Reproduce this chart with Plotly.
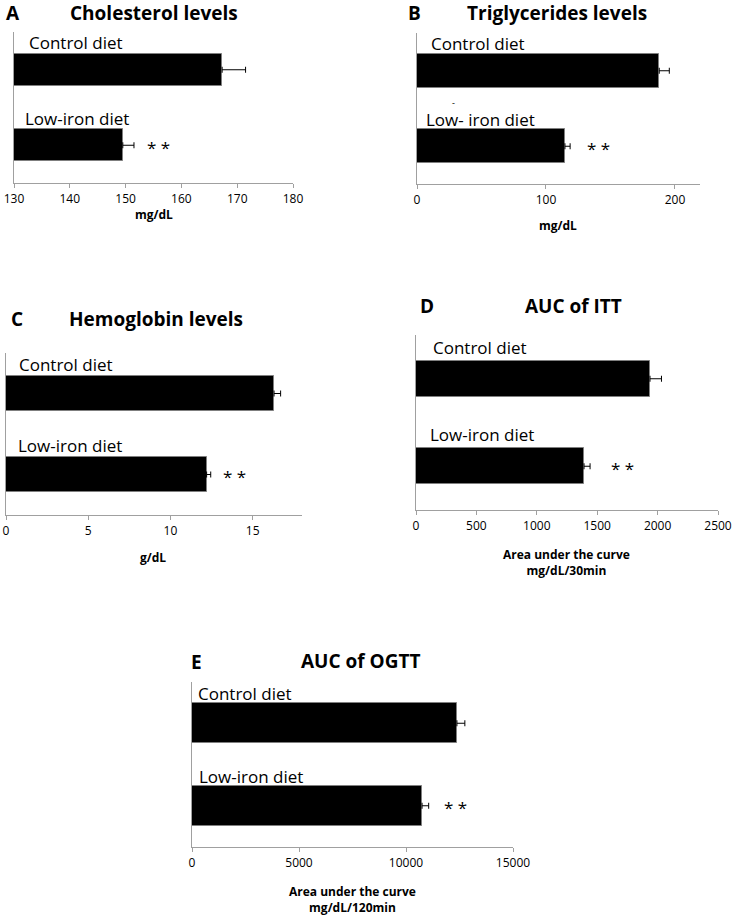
import plotly.graph_objects as go

# ---------------- data ----------------
groups = ["Low-iron diet", "Control diet"]   # y position 0, 1

chol_vals = [149.5, 167.3]
chol_err = [2.0, 4.2]
trig_vals = [114.7, 187.8]
trig_err = [4.0, 7.8]
hemo_vals = [12.2, 16.3]
hemo_err = [0.25, 0.4]
itt_vals = [1391, 1937]
itt_err = [50, 95]
ogtt_vals = [10750, 12380]
ogtt_err = [310, 370]

panel_letters = ["A", "B", "C", "D", "E"]
panel_titles = ["Cholesterol levels", "Triglycerides levels", "Hemoglobin levels",
                "AUC of ITT", "AUC of OGTT"]
axis_titles = ["mg/dL", "mg/dL", "g/dL",
               "Area under the curve<br>mg/dL/30min",
               "Area under the curve<br>mg/dL/120min"]
low_labels = ["Low-iron diet", "Low- iron diet", "Low-iron diet", "Low-iron diet", "Low-iron diet"]
x_ranges = [[130, 180], [0, 219.4], [0, 18], [0, 2500], [0, 15000]]
x_dticks = [10, 100, 5, 500, 5000]
x_tick0 = [130, 0, 0, 0, 0]
stars = "* *"

values = [chol_vals, trig_vals, hemo_vals, itt_vals, ogtt_vals]
errors = [chol_err, trig_err, hemo_err, itt_err, ogtt_err]

# ---------------- layout geometry (pixels) ----------------
W, H = 735, 917
# (left, right, top, bottom) of each plot area in pixels
boxes = [(14, 293, 32, 183), (417, 700, 33, 184), (6, 302, 353, 515),
         (416, 718, 335, 510), (192, 513, 682, 847)]
bar_widths = [0.42, 0.45, 0.44, 0.41, 0.48]
letter_pos = [(13, 13), (414, 13), (17, 319), (427, 306), (196, 662)]
title_pos = [(154, 13), (557, 13), (156, 319), (573, 306), (360, 661)]
axtitle_pos = [(154, 214), (558, 226), (153, 557), (566, 562), (352, 899)]
ctrl_shift = [13, 12, 11, 15, 4]
low_shift = [9, 7, 10, 12, 5]
star_shift = [11, 15, 10, 19, 13]

FONT = "Open Sans"
AXC = "#a0a0a0"

fig = go.Figure()
annotations = []

for i in range(5):
    l, r, t, b = boxes[i]
    ax = "" if i == 0 else str(i + 1)
    xa, ya = "x" + ax, "y" + ax
    fig.add_trace(go.Bar(
        x=values[i], y=[0, 1], orientation="h",
        width=bar_widths[i],
        marker=dict(color="black", line=dict(color="#7f7f7f", width=1)),
        error_x=dict(type="data", array=errors[i], arrayminus=[0, 0], symmetric=False,
                     color="black", thickness=1, width=3),
        xaxis=xa, yaxis=ya, showlegend=False, hoverinfo="x+y",
    ))
    fig.layout["xaxis" + ax] = dict(
        domain=[l / W, r / W], range=x_ranges[i], anchor=ya, automargin=False,
        tick0=x_tick0[i], dtick=x_dticks[i], ticks="outside", ticklen=4,
        tickcolor=AXC, showline=True, linecolor=AXC, linewidth=1.3,
        showgrid=False, zeroline=False, tickformat="d",
        tickfont=dict(family=FONT, size=12, color="black"),
    )
    fig.layout["yaxis" + ax] = dict(
        domain=[1 - b / H, 1 - t / H], range=[-0.5, 1.5], anchor=xa, automargin=False,
        showline=True, linecolor=AXC, linewidth=1.3, showticklabels=False,
        ticks="", showgrid=False, zeroline=False,
    )
    xmin = x_ranges[i][0]
    # group labels
    annotations.append(dict(x=xmin, y=1.36, xref=xa, yref=ya, text="Control diet",
                            showarrow=False, xanchor="left", yanchor="middle",
                            xshift=ctrl_shift[i], font=dict(family=FONT, size=17, color="black")))
    annotations.append(dict(x=xmin, y=0.36, xref=xa, yref=ya, text=low_labels[i],
                            showarrow=False, xanchor="left", yanchor="middle",
                            xshift=low_shift[i], font=dict(family=FONT, size=17, color="black")))
    # significance stars
    annotations.append(dict(x=values[i][0] + errors[i][0], y=0, xref=xa, yref=ya, text=stars,
                            showarrow=False, xanchor="left", yanchor="middle",
                            xshift=star_shift[i], yshift=-2,
                            font=dict(family=FONT, size=17, color="black")))
    # letters and titles
    lx, ly = letter_pos[i]
    annotations.append(dict(x=lx / W, y=1 - ly / H, xref="paper", yref="paper",
                            text="<b>" + panel_letters[i] + "</b>", showarrow=False,
                            xanchor="center", yanchor="middle",
                            font=dict(family=FONT, size=19, color="black")))
    tx, ty = title_pos[i]
    annotations.append(dict(x=tx / W, y=1 - ty / H, xref="paper", yref="paper",
                            text="<b>" + panel_titles[i] + "</b>", showarrow=False,
                            xanchor="center", yanchor="middle",
                            font=dict(family=FONT, size=19, color="black")))
    atx, aty = axtitle_pos[i]
    annotations.append(dict(x=atx / W, y=1 - aty / H, xref="paper", yref="paper",
                            text="<b>" + axis_titles[i].replace("<br>", "</b><br><b>") + "</b>",
                            showarrow=False, xanchor="center", yanchor="middle",
                            font=dict(family=FONT, size=12, color="black")))

# small stray mark above "iron" in panel B
annotations.append(dict(x=x_ranges[1][0], y=0.58, xref="x2", yref="y2", text="-",
                        showarrow=False, xanchor="left", yanchor="middle", xshift=33,
                        font=dict(family=FONT, size=9, color="black")))

fig.update_layout(
    width=W, height=H, margin=dict(l=0, r=0, t=0, b=0),
    paper_bgcolor="white", plot_bgcolor="white",
    annotations=annotations, bargap=0,
)

fig.write_html("out.html", config={"displayModeBar": False},
               post_script="document.body.style.margin='0';document.body.style.padding='0';")
